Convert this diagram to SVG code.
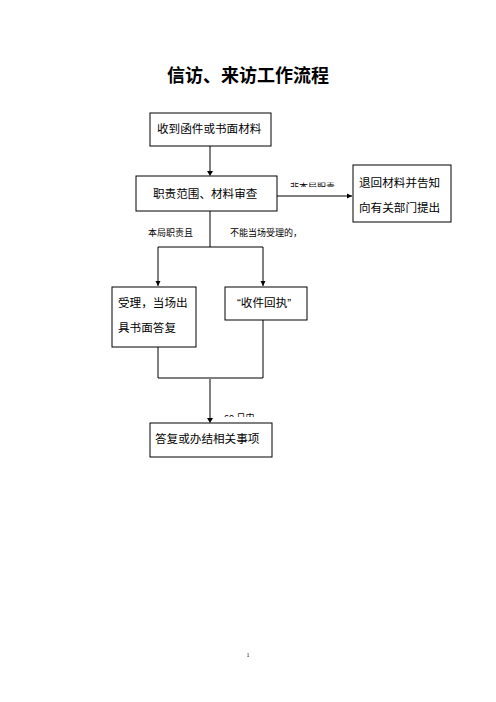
<svg xmlns="http://www.w3.org/2000/svg" width="496" height="702" viewBox="0 0 496 702">
<style>
.box{fill:#fff;stroke:#000;stroke-width:1}
.t{font-family:"Liberation Sans","Noto Sans CJK SC",sans-serif;font-size:11.6px;fill:#000}
.s{font-family:"Liberation Sans","Noto Sans CJK SC",sans-serif;font-size:9px;fill:#000}
.ln{fill:none;stroke:#000;stroke-width:1}
.gl{fill:none;stroke:#808080;stroke-width:2}
</style>
<defs>
<marker id="ah" markerWidth="6" markerHeight="6" refX="5" refY="3" orient="auto" markerUnits="userSpaceOnUse">
<path d="M0,0.5 L5,3 L0,5.5 z" fill="#000"/>
</marker>
<clipPath id="c1"><rect x="285" y="182.5" width="60" height="4.5"/></clipPath>
<clipPath id="c2"><rect x="218" y="412.5" width="45" height="4.5"/></clipPath>
</defs>
<rect width="496" height="702" fill="#fff"/>
<text x="248" y="82" text-anchor="middle" font-family="'Liberation Sans','Noto Sans CJK SC',sans-serif" font-size="18" font-weight="bold">信访、来访工作流程</text>
<g id="connectors">
<path class="gl" d="M210,146 V171"/>
<path d="M207,171 L213,171 L210,176 z" fill="#000"/>
<path class="ln" d="M277,196 H352" marker-end="url(#ah)"/>
<path class="ln" d="M210,211 V247 M158,247 H263"/>
<path class="ln" d="M158,247 V286" marker-end="url(#ah)"/>
<path class="ln" d="M263,247 V286" marker-end="url(#ah)"/>
<path class="ln" d="M158,347 V378 H263 V320"/>
<path class="gl" d="M210,378 V418"/>
<path d="M207,418 L213,418 L210,423 z" fill="#000"/>
<text class="s" x="290" y="190" clip-path="url(#c1)">非本局职责</text>
<text class="s" x="148" y="236">本局职责且</text>
<text class="s" x="230" y="236">不能当场受理的，</text>
<text class="s" x="224" y="421" clip-path="url(#c2)">60 日内</text>
</g>
<g id="n1"><rect class="box" x="150" y="113" width="121" height="33"/><text class="t" x="157" y="133">收到函件或书面材料</text></g>
<g id="n2"><rect class="box" x="136" y="176" width="141" height="35"/><text class="t" x="153" y="198">职责范围、材料审查</text></g>
<g id="n3"><rect class="box" x="353" y="165" width="98" height="57"/><text class="t" x="359" y="187">退回材料并告知</text><text class="t" x="359" y="212">向有关部门提出</text></g>
<g id="n4"><rect class="box" x="112" y="287" width="84" height="60"/><text class="t" x="118" y="307">受理，当场出</text><text class="t" x="118" y="332">具书面答复</text></g>
<g id="n5"><rect class="box" x="225" y="287" width="82" height="33"/><text class="t" x="237" y="307">“收件回执”</text></g>
<g id="n6"><rect class="box" x="150" y="423" width="122" height="34"/><text class="t" x="155" y="443">答复或办结相关事项</text></g>
<text x="248" y="657" text-anchor="middle" font-family="'Liberation Serif',serif" font-size="6">1</text>
</svg>
